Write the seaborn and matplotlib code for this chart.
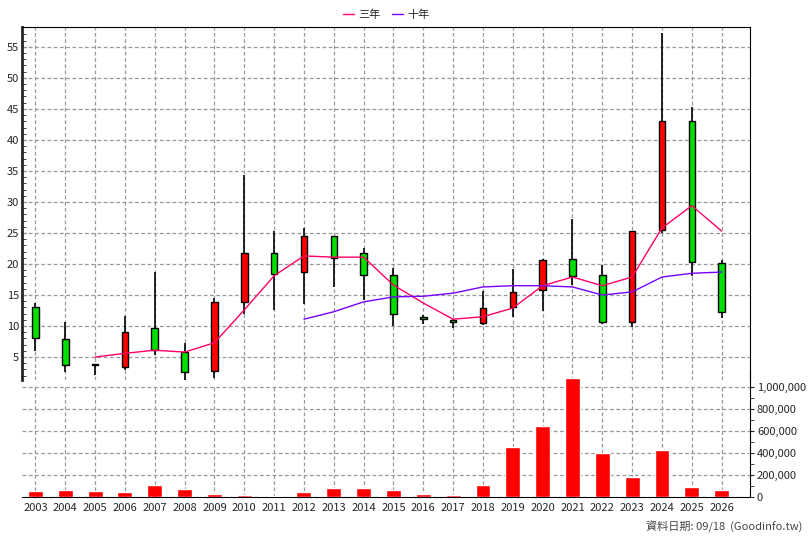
import matplotlib
matplotlib.use("Agg")
import matplotlib.pyplot as plt
import seaborn as sns
import numpy as np
import pandas as pd

years = list(range(2003, 2027))
opens  = [13.1, 7.9, 3.7, 3.4, 9.7, 5.8, 2.7, 13.9, 21.8, 18.7, 24.5, 21.8, 18.2, 11.5, 10.9, 10.5, 13.1, 15.8, 20.8, 18.2, 10.6, 25.5, 43.1, 20.2]
closes = [8.1, 3.7, 3.7, 9.0, 6.1, 2.6, 13.9, 21.8, 18.4, 24.5, 21.0, 18.2, 11.9, 11.1, 10.6, 12.9, 15.5, 20.6, 18.1, 10.6, 25.3, 43.1, 20.3, 12.3]
highs  = [13.7, 10.6, 3.9, 11.6, 18.7, 7.3, 14.5, 34.4, 25.3, 25.8, 24.5, 22.6, 19.4, 11.8, 11.1, 15.6, 19.2, 20.8, 27.3, 19.8, 25.3, 57.3, 45.3, 20.6]
lows   = [6.0, 2.6, 2.1, 2.9, 5.3, 1.3, 1.6, 11.9, 12.6, 13.5, 16.3, 14.2, 10.0, 10.3, 9.7, 10.2, 11.5, 12.4, 16.6, 10.3, 9.8, 25.0, 18.1, 11.3]
ma3 = [np.nan, np.nan, 5.0, 5.6, 6.1, 5.8, 7.3, 12.6, 18.1, 21.3, 21.1, 21.1, 16.6, 13.7, 11.1, 11.5, 12.9, 16.5, 17.9, 16.5, 17.9, 25.8, 29.4, 25.3]
ma10 = [np.nan]*9 + [11.1, 12.3, 13.9, 14.7, 14.8, 15.3, 16.3, 16.5, 16.5, 16.3, 15.0, 15.5, 17.9, 18.5, 18.7]
volumes = [55e3, 64e3, 55e3, 45e3, 110e3, 75e3, 27e3, 18e3, 9e3, 45e3, 85e3, 85e3, 64e3, 27e3, 18e3, 110e3, 455e3, 645e3, 1080e3, 400e3, 180e3, 425e3, 90e3, 65e3]

sns.set_style("white")
plt.rcParams['font.family'] = ['Noto Sans CJK TC', 'DejaVu Sans']

W, H = 808, 540
fig = plt.figure(figsize=(W/100, H/100), dpi=100)
L, R = 22/W, 750/W
ax = fig.add_axes([L, 1-380/H, R-L, (380-27)/H])
axv = fig.add_axes([L, 1-497/H, R-L, (497-370)/H])
axv.patch.set_alpha(0)

x = np.array(years)
grid_kw = dict(color='#999999', linestyle=(0, (3, 2)), linewidth=0.9)

# volume
axv.bar(x, volumes, width=0.5, color='#ff0000', zorder=3)
axv.set_ylim(0, 1.155e6)
axv.set_xlim(2002.55, 2026.95)
axv.yaxis.tick_right()
axv.set_yticks(np.arange(0, 1.0001e6, 2e5))
axv.set_yticklabels([f"{int(v):,}" for v in np.arange(0, 1.0001e6, 2e5)], fontsize=8)
axv.set_yticks(np.arange(0, 1.1e6, 1e5), minor=True)
axv.tick_params(axis='y', which='both', direction='out', right=True, length=3, pad=2)
axv.set_xticks(years)
axv.set_xticklabels([str(y) for y in years], fontsize=8)
axv.tick_params(axis='x', length=0, pad=4)
for v in np.arange(2e5, 1.0001e6, 2e5):
    axv.axhline(v, **grid_kw, zorder=1)
for y in years:
    axv.plot([y, y], [0, 1.0e6], **grid_kw, zorder=1)
for s in ['top', 'left']:
    axv.spines[s].set_visible(False)
axv.spines['bottom'].set_color('black')
axv.spines['right'].set_color('black')

# candles
ax.set_xlim(2002.55, 2026.95)
ax.set_ylim(1.3, 58.2)
ax.vlines(x, lows, highs, color='black', linewidth=1.2, zorder=3)
o = np.array(opens); c = np.array(closes)
cols = ['#ff0000' if cc > oo else '#00dd00' for oo, cc in zip(o, c)]
bot = np.minimum(o, c); hgt = np.maximum(np.abs(c - o), 0.15)
ax.bar(x, hgt, bottom=bot, width=0.22, color=cols, edgecolor='black', linewidth=1, zorder=4)
df = pd.DataFrame({'year': years, '三年': ma3, '十年': ma10})
sns.lineplot(data=df, x='year', y='三年', ax=ax, color='#ff0066', linewidth=1, zorder=5, label='三年')
sns.lineplot(data=df, x='year', y='十年', ax=ax, color='#7700ff', linewidth=1, zorder=5, label='十年')
ax.set_xlabel(''); ax.set_ylabel('')
ax.set_xticks(years); ax.set_xticklabels([])
ax.tick_params(axis='x', length=0)
ax.set_yticks(range(5, 56, 5))
ax.set_yticklabels([str(v) for v in range(5, 56, 5)], fontsize=8)
ax.set_yticks(np.arange(2, 58, 1), minor=True)
ax.tick_params(axis='y', which='both', direction='in', left=True, length=3, pad=2)
for v in range(5, 56, 5):
    ax.axhline(v, **grid_kw, zorder=1)
for y in years:
    ax.axvline(y, **grid_kw, zorder=1)
ax.spines['bottom'].set_visible(False)
ax.spines['left'].set_linewidth(2)
for s in ['top', 'right']:
    ax.spines[s].set_color('black')
ax.legend(loc='lower center', bbox_to_anchor=(0.5, 1.0), ncol=2, frameon=False,
          fontsize=8, handlelength=1, handletextpad=0.4, columnspacing=1, borderaxespad=0.2)

fig.text(802/W, 1-527/H, '資料日期: 09/18  (Goodinfo.tw)', ha='right', va='center', fontsize=8, color='#444444')
fig.savefig('out.png', dpi=100)
